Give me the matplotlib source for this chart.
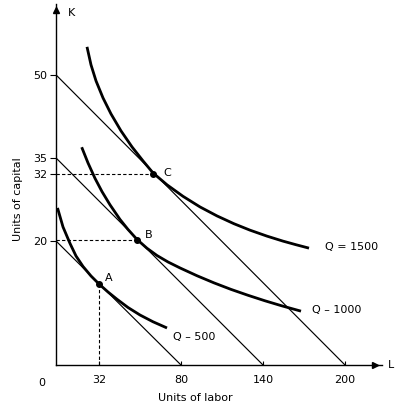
import numpy as np
import matplotlib.pyplot as plt

# isocost lines: capital intercept and labor intercept
cost_k = [50, 35, 20]
cost_l = [200, 140, 80]

# isoquants
q1500_l = [23.07, 26.05, 29.77, 34.34, 39.02, 44.88, 51.32, 57.76, 63.6, 71.81,
           81.46, 93.90, 106.34, 118.78, 130.49, 142.93, 154.63, 164.15, 173.66]
q1500_k = [55.06, 51.81, 48.92, 45.84, 42.95, 39.88, 36.99, 34.44, 32.19, 30.05,
           27.99, 26.09, 24.48, 23.08, 21.93, 20.86, 19.97, 19.39, 18.84]
q1000_l = [19.13, 23.81, 29.02, 33.76, 38.44, 44.29, 48.98, 54.24, 60.10, 65.95,
           72.39, 79.41, 91.71, 104.15, 116.59, 129.02, 141.46, 153.90, 167.80]
q1000_k = [36.93, 34.06, 31.21, 28.83, 26.47, 23.85, 22.06, 20.27, 18.82, 17.65,
           16.61, 15.65, 14.39, 13.24, 12.19, 11.24, 10.35, 9.53, 8.68]
q500_l = [1.12, 5.21, 10.42, 14.88, 20.09, 26.05, 32.0, 37.27, 42.54, 48.98, 56.00, 63.61, 71.81]
q500_k = [25.91, 22.51, 19.60, 17.58, 15.89, 14.35, 13.06, 11.77, 10.60, 9.27, 8.06, 6.97, 5.97]
q_names = ['Q = 1500', 'Q \u2013 1000', 'Q \u2013 500']
q_label_l = [185.4, 175.9, 75.3]
q_label_k = [19.0, 8.9, 4.5]

# tangency points
pt_names = ['C', 'B', 'A']
pt_l = [63.5, 54.2, 32]
pt_k = [32, 20.1, 13.06]

x_ticks = [32, 80, 140, 200]
y_ticks = [20, 32, 35, 50]

# the drawing is schematic, so the axes are not evenly spaced
xb = [-100, 0, 32, 80, 140, 200, 400]
xp = [-134.4, 0, 43, 125, 207, 289, 562.3]
yb = [-100, 0, 20, 32, 35, 50, 100]
yp = [-620, 0, 124, 191, 207, 290, 566.7]

def fx(v):
    return np.interp(v, xb, xp)

def fx_inv(v):
    return np.interp(v, xp, xb)

def fy(v):
    return np.interp(v, yb, yp)

def fy_inv(v):
    return np.interp(v, yp, yb)

plt.rcParams['font.family'] = 'DejaVu Sans'
fig = plt.figure(figsize=(3.95, 4.05), dpi=100)
W, H = 326, 361
ax = fig.add_axes([56 / 395, 40 / 405, W / 395, H / 405])
ax.set_xscale('function', functions=(fx, fx_inv))
ax.set_yscale('function', functions=(fy, fy_inv))
ax.set_xlim(0, 227.07)
ax.set_ylim(0, 62.8)

for k, l in zip(cost_k, cost_l):
    ax.plot([0, l], [k, 0], color='black', lw=0.85)

for ls, ks in [(q1500_l, q1500_k), (q1000_l, q1000_k), (q500_l, q500_k)]:
    ax.plot(ls, ks, color='black', lw=2, solid_joinstyle='round', solid_capstyle='butt')

for name, l, k in zip(q_names, q_label_l, q_label_k):
    ax.text(l, k, name, fontsize=8, ha='left', va='center')

# dashed guides
ax.plot([0, pt_l[0]], [pt_k[0], pt_k[0]], color='black', lw=0.8, dashes=(3, 2))
ax.plot([0, pt_l[1]], [pt_k[1], pt_k[1]], color='black', lw=0.8, dashes=(3, 2))
ax.plot([pt_l[2], pt_l[2]], [0, pt_k[2]], color='black', lw=0.8, dashes=(3, 2))

ax.plot(pt_l, pt_k, 'o', color='black', ms=4, zorder=5)
offsets = [(11, 1), (8, 5), (6, 6)]
for name, l, k, off in zip(pt_names, pt_l, pt_k, offsets):
    ax.annotate(name, (l, k), xytext=off, textcoords='offset pixels',
                fontsize=8, ha='left', va='center')

for s in ['top', 'right']:
    ax.spines[s].set_visible(False)
for s in ['left', 'bottom']:
    ax.spines[s].set_linewidth(1)
ax.plot((375 - 56) / W, 0, '>', color='black', ms=4, transform=ax.transAxes, clip_on=False)
ax.plot(0, (365 - 10) / H, '^', color='black', ms=4, transform=ax.transAxes, clip_on=False)

ax.set_xticks(x_ticks)
ax.set_xticklabels([str(t) for t in x_ticks])
ax.set_yticks(y_ticks)
ax.set_yticklabels([str(t) for t in y_ticks])
ax.tick_params(axis='x', direction='in', length=3, width=0.8, pad=7, labelsize=8)
ax.tick_params(axis='y', direction='out', length=4, width=0.8, pad=2, labelsize=8)
ax.annotate('0', (0, 0), xytext=(-14, -18), textcoords='offset pixels',
            fontsize=8, ha='center', va='center')

ax.set_xlabel('Units of labor', fontsize=8)
ax.xaxis.set_label_coords((195 - 56) / W, (365 - 398) / H)
ax.xaxis.label.set_va('center')
ax.set_ylabel('Units of capital', fontsize=8)
ax.yaxis.set_label_coords((18 - 56) / W, (365 - 199) / H)
ax.yaxis.label.set_va('center')

ax.text((68 - 56) / W, (365 - 13) / H, 'K', transform=ax.transAxes, fontsize=8, va='center')
ax.text((388 - 56) / W, 0, 'L', transform=ax.transAxes, fontsize=8, va='center')

fig.savefig('out.png', dpi=100)
